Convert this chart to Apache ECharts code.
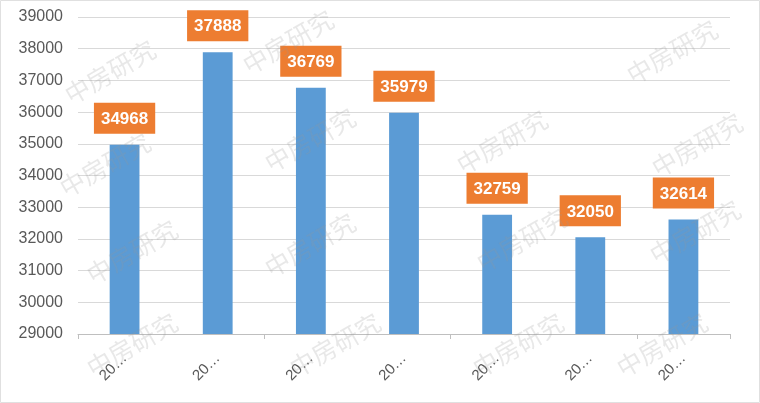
<!DOCTYPE html>
<html><head><meta charset="utf-8">
<script src="https://cdn.jsdelivr.net/npm/echarts@6/dist/echarts.min.js"></script>
<style>html,body{margin:0;padding:0;background:#fff}#c{width:760px;height:403px}</style>
</head><body><div id="c"></div>
<script>
const categories = ['20…','20…','20…','20…','20…','20…','20…'];
const values = [34968, 37888, 36769, 35979, 32759, 32050, 32614];
const yTicks = {min: 29000, max: 39000, interval: 1000};
const watermarkText = '中房研究';
const watermarks = [[110,72],[288,42],[672,52],[105,165],[310,140],[502,142],[697,145],[310,245],[132,252],[522,240],[695,232],[132,345],[335,345],[518,345],[662,345]];

const chart = echarts.init(document.getElementById('c'));
chart.setOption({
  animation: false,
  grid: {left: 78, right: 30, top: 17, bottom: 69},
  xAxis: {
    type: 'category', data: categories,
    axisLine: {lineStyle: {color: '#bfbfbf'}},
    axisTick: {show: true, interval: 1, alignWithLabel: false, length: 5, lineStyle: {color: '#bfbfbf'}},
    axisLabel: {rotate: 45, color: '#595959', fontSize: 15, fontFamily: 'Liberation Sans', margin: 22, interval: 0}
  },
  yAxis: {
    type: 'value', min: yTicks.min, max: yTicks.max, interval: yTicks.interval,
    axisLine: {show: false}, axisTick: {show: false},
    splitLine: {lineStyle: {color: '#d9d9d9'}},
    axisLabel: {color: '#595959', fontSize: 16, fontFamily: 'Liberation Sans', margin: 15, formatter: v => String(v)}
  },
  series: [{
    type: 'bar', data: values, barWidth: '32%',
    itemStyle: {color: '#5B9BD5'},
    label: {
      show: true, position: 'top', distance: 11,
      backgroundColor: '#ED7D31', color: '#fff', fontSize: 17, fontWeight: 'bold',
      fontFamily: 'Liberation Sans', padding: [8, 7, 6, 7]
    }
  }],
  graphic: [
    {type: 'rect', shape: {x: 0.5, y: 0.5, width: 759, height: 402}, style: {fill: 'none', stroke: '#e0e0e0', lineWidth: 1}, z: 0, silent: true}
  ].concat(watermarks.map(p => ({
    type: 'text', x: p[0], y: p[1], rotation: Math.PI / 6, z: 100, silent: true,
    style: {text: watermarkText, fill: 'rgba(150,150,150,0.22)', font: '25px "Noto Sans CJK SC"', align: 'center', verticalAlign: 'middle'}
  })))
});
</script></body></html>
